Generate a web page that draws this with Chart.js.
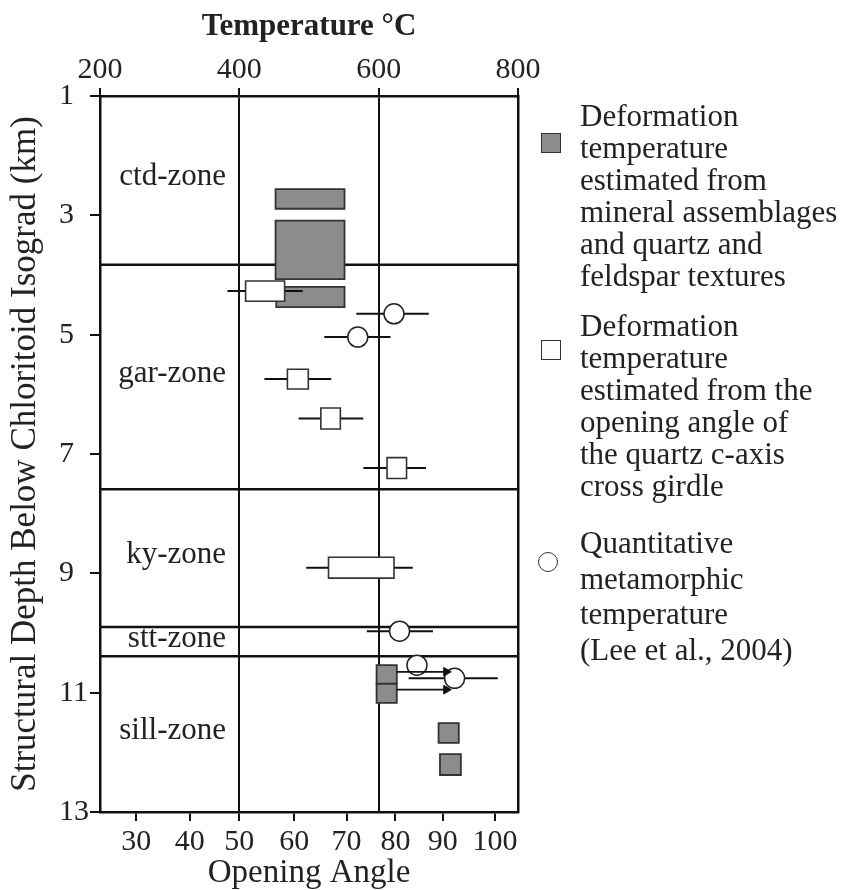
<!DOCTYPE html>
<html>
<head>
<meta charset="utf-8">
<title>Deformation temperature vs structural depth</title>
<script src="https://cdn.jsdelivr.net/npm/chart.js@4.4.1/dist/chart.umd.min.js"></script>
<style>
  html, body { margin: 0; padding: 0; background: #fff; }
  #wrap { position: relative; width: 846px; height: 890px; font-family: "Liberation Serif", "Times New Roman", serif; color: #222; }
  #wrap canvas { position: absolute; left: 0; top: 0; }
  .key { position: absolute; left: 580px; font-size: 31px; line-height: 32px; white-space: nowrap; }
  .mark { position: absolute; box-sizing: border-box; border: 1.5px solid #333; }
</style>
</head>
<body>
<div id="wrap">
  <canvas id="depth-chart" width="846" height="890"></canvas>

  <div class="mark" style="left:541px;top:133px;width:20px;height:20px;background:#8c8c8c"></div>
  <div class="key" style="top:100px">Deformation<br>temperature<br>estimated from<br>mineral assemblages<br>and quartz and<br>feldspar textures</div>

  <div class="mark" style="left:541px;top:340px;width:20px;height:20px;background:#fff"></div>
  <div class="key" style="top:310px">Deformation<br>temperature<br>estimated from the<br>opening angle of<br>the quartz c-axis<br>cross girdle</div>

  <div class="mark" style="left:538px;top:552px;width:20px;height:20px;background:#fff;border-radius:50%"></div>
  <div class="key" style="top:525px;line-height:35.5px">Quantitative<br>metamorphic<br>temperature<br>(Lee et al., 2004)</div>
</div>

<script>
// zones and isograd depths (km below chloritoid isograd)
const zoneNames = ['ctd-zone', 'gar-zone', 'ky-zone', 'stt-zone', 'sill-zone'];
const zoneBounds = [3.83, 7.59, 9.9, 10.39];

// deformation T from mineral assemblages (grey boxes)
const mineralTmin = [452, 452, 453, 597, 597, 686, 688];
const mineralTmax = [551, 551, 551, 626, 626, 715, 718];
const mineralTop = [2.56, 3.09, 4.20, 10.54, 10.85, 11.51, 12.03];
const mineralBottom = [2.89, 4.07, 4.54, 10.85, 11.17, 11.84, 12.38];

// minimum estimates (arrows)
const arrowDepth = [10.65, 10.95];
const arrowFrom = [626, 626];
const arrowTo = [697, 697];

// deformation T from opening angle (white boxes)
const angleTmin = [409, 469, 517, 612, 528];
const angleTmax = [465, 499, 545, 640, 622];
const angleTop = [4.10, 5.58, 6.23, 7.06, 8.73];
const angleBottom = [4.44, 5.91, 6.58, 7.41, 9.08];
const angleErrLo = [383, 436, 485, 578, 496];
const angleErrHi = [491, 532, 578, 668, 649];

// Lee et al., 2004 (circles)
const leeT = [622, 570, 630, 655, 709];
const leeDepth = [4.65, 5.04, 9.97, 10.54, 10.76];
const leeErrLo = [568, 522, 583, null, 643];
const leeErrHi = [672, 617, 678, null, 771];

// axes
const tempTicks = [200, 400, 600, 800];
const angleTicks = [30, 40, 50, 60, 70, 80, 90, 100];
const angleTickTemps = [252, 329, 400, 479, 554, 624, 692, 767];
const depthTicks = [1, 3, 5, 7, 9, 11, 13];

const serif = '"Liberation Serif", "Times New Roman", serif';
const lineColor = '#111';
Chart.defaults.font.family = serif;
Chart.defaults.color = '#222';

const rectPoints = (t0, t1, d0, d1) => [
  {x: t0, y: d0}, {x: t1, y: d0}, {x: t1, y: d1}, {x: t0, y: d1}, {x: t0, y: d0},
];

const datasets = [];

zoneBounds.forEach(d => datasets.push({
  data: [{x: tempTicks[0], y: d}, {x: tempTicks[tempTicks.length - 1], y: d}],
  borderColor: lineColor, borderWidth: 2.5, pointRadius: 0, order: 6,
}));

mineralTmin.forEach((t0, i) => datasets.push({
  data: rectPoints(t0, mineralTmax[i], mineralTop[i], mineralBottom[i]),
  borderColor: '#333', borderWidth: 1.8, borderCapStyle: 'square',
  backgroundColor: '#8c8c8c', fill: 'shape', pointRadius: 0, order: 5,
}));

angleErrLo.forEach((lo, i) => datasets.push({
  data: [{x: lo, y: (angleTop[i] + angleBottom[i]) / 2}, {x: angleErrHi[i], y: (angleTop[i] + angleBottom[i]) / 2}],
  borderColor: lineColor, borderWidth: 2, pointRadius: 0, order: 4,
}));

leeErrLo.forEach((lo, i) => {
  if (lo === null) return;
  datasets.push({
    data: [{x: lo, y: leeDepth[i]}, {x: leeErrHi[i], y: leeDepth[i]}],
    borderColor: lineColor, borderWidth: 2, pointRadius: 0, order: 4,
  });
});

angleTmin.forEach((t0, i) => datasets.push({
  data: rectPoints(t0, angleTmax[i], angleTop[i], angleBottom[i]),
  borderColor: '#333', borderWidth: 1.6, borderCapStyle: 'square',
  backgroundColor: '#fff', fill: 'shape', pointRadius: 0, order: 3,
}));

datasets.push({
  data: leeT.map((t, i) => ({x: t, y: leeDepth[i]})),
  showLine: false, pointStyle: 'circle', pointRadius: 10,
  pointBackgroundColor: '#fff', pointBorderColor: '#222', pointBorderWidth: 1.5, order: 2,
});

arrowDepth.forEach((d, i) => datasets.push({
  data: [{x: arrowFrom[i], y: d}, {x: arrowTo[i], y: d}],
  borderColor: lineColor, borderWidth: 1.8, order: 1,
  pointRadius: [0, 5], pointStyle: 'triangle', pointRotation: 90,
  pointBackgroundColor: lineColor, pointBorderColor: lineColor, pointBorderWidth: 1,
}));

// zone names, right aligned inside the left column
const zoneLabels = {
  id: 'zoneLabels',
  afterDatasetsDraw(chart) {
    const {ctx, chartArea, scales: {y}} = chart;
    const edges = [depthTicks[0], ...zoneBounds, depthTicks[depthTicks.length - 1]];
    ctx.save();
    ctx.font = '31px ' + serif;
    ctx.fillStyle = '#222';
    ctx.textAlign = 'right';
    ctx.textBaseline = 'alphabetic';
    zoneNames.forEach((name, i) => {
      const mid = (edges[i] + edges[i + 1]) / 2;
      ctx.fillText(name, chartArea.left + 126, y.getPixelForValue(mid) + 5);
    });
    ctx.restore();
  }
};

const axisLine = {color: lineColor, width: 2.5};

new Chart(document.getElementById('depth-chart').getContext('2d'), {
  type: 'line',
  data: {datasets},
  options: {
    responsive: false,
    animation: false,
    layout: {padding: {left: 8, right: 328, top: 0, bottom: 0}},
    plugins: {legend: {display: false}, tooltip: {enabled: false}},
    scales: {
      x: {
        type: 'linear', position: 'bottom', min: 200, max: 800,
        afterBuildTicks: s => { s.ticks = angleTickTemps.map(v => ({value: v})); },
        afterFit: s => { s.height = 78; },
        ticks: {callback: (v, i) => angleTicks[i], autoSkip: false, maxRotation: 0, padding: 3, font: {size: 30}},
        grid: {drawOnChartArea: false, tickLength: 9, color: lineColor, lineWidth: 2},
        border: axisLine,
        title: {display: true, text: 'Opening Angle', font: {size: 33, lineHeight: 1}, padding: 0},
      },
      xTop: {
        type: 'linear', position: 'top', min: 200, max: 800,
        afterBuildTicks: s => { s.ticks = tempTicks.map(v => ({value: v})); },
        afterFit: s => { s.height = 96; },
        ticks: {autoSkip: false, maxRotation: 0, padding: 0, font: {size: 30}},
        grid: {tickLength: 8, color: lineColor, lineWidth: 2},
        border: axisLine,
        title: {display: true, text: 'Temperature °C', font: {size: 31, weight: 'bold', lineHeight: 1}, padding: {top: 11, bottom: 0}},
      },
      y: {
        type: 'linear', position: 'left', reverse: true, min: 1, max: 13, weight: 0,
        afterBuildTicks: s => { s.ticks = depthTicks.map(v => ({value: v})); },
        afterFit: s => { s.width = 41; },
        ticks: {crossAlign: 'far', padding: 0, font: {size: 30}},
        grid: {drawOnChartArea: false, tickLength: 10, color: lineColor, lineWidth: 2},
        border: axisLine,
      },
      yTitle: {
        type: 'linear', position: 'left', reverse: true, min: 1, max: 13, weight: 1,
        afterFit: s => { s.width = 51; },
        ticks: {display: false},
        grid: {display: false},
        border: {display: false},
        title: {display: true, text: 'Structural Depth Below Chloritoid Isograd (km)', font: {size: 35, lineHeight: 1}, padding: 0},
      },
      yRight: {
        type: 'linear', position: 'right', min: 1, max: 13,
        afterFit: s => { s.width = 0; },
        ticks: {display: false},
        grid: {display: false},
        border: axisLine,
      },
    },
  },
  plugins: [zoneLabels],
});
</script>
</body>
</html>
